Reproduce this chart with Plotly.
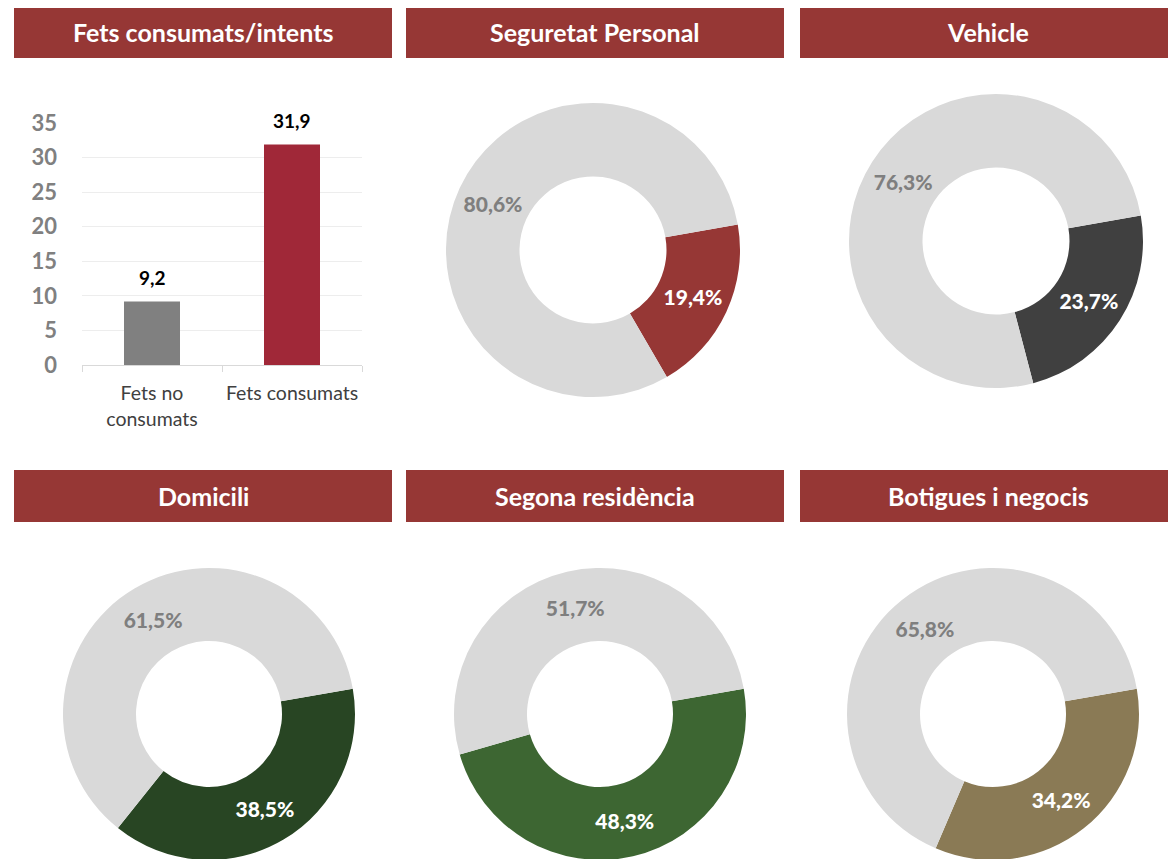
import plotly.graph_objects as go

W, H = 1176, 859
OFF = 8  # page body margin the figure sits inside

# ---- data ----
bar_cats = ["Fets no<br>consumats", "Fets consumats"]
bar_vals = [9.2, 31.9]
bar_colors = ["#808080", "#A02838"]
y_ticks = [0, 5, 10, 15, 20, 25, 30, 35]

panel_titles = ["Fets consumats/intents", "Seguretat Personal", "Vehicle",
                "Domicili", "Segona residència", "Botigues i negocis"]

donut_names = ["Seguretat Personal", "Vehicle", "Domicili",
               "Segona residència", "Botigues i negocis"]
donut_share = [19.4, 23.7, 38.5, 48.3, 34.2]      # coloured slice
donut_rest = [80.6, 76.3, 61.5, 51.7, 65.8]       # grey slice
donut_colors = ["#963735", "#404040", "#284523", "#3D6632", "#8A7A55"]

HEAD = "#963735"
GREY = "#D9D9D9"
LBL = "#7F7F7F"
FONT = "Lato, sans-serif"

def px(x):
    return (x - OFF) / W

def py(y):
    return 1 - (y - OFF) / H

def dom(cx, cy, r):
    # pixel centre/radius -> paper domain
    y0 = max(py(cy + r), 0)
    return dict(x=[px(cx - r), px(cx + r)], y=[y0, py(cy - r)])

donut_pos = [(593, 250, 147), (996, 241, 147), (209, 714, 146),
             (600, 714, 146), (993, 714, 146)]

fig = go.Figure()

# bar chart
fig.add_trace(go.Bar(
    x=bar_cats, y=bar_vals, marker=dict(color=bar_colors, line=dict(width=0)),
    showlegend=False, hoverinfo="x+y"))
for c, v in zip(bar_cats, bar_vals):
    fig.add_annotation(x=c, y=v, text=f"<b>{v:.1f}</b>".replace(".", ","),
                       showarrow=False, yanchor="bottom", yshift=10,
                       font=dict(family=FONT, size=19, color="#000000"))

# donuts
for name, a, b, col, pos in zip(donut_names, donut_share, donut_rest, donut_colors, donut_pos):
    fig.add_trace(go.Pie(
        labels=[name, "Resta"], values=[a, b], hole=0.5, sort=False,
        direction="clockwise", rotation=80,
        marker=dict(colors=[col, GREY], line=dict(width=0)),
        texttemplate="%{value:.1f}%", textposition="inside",
        insidetextorientation="horizontal",
        insidetextfont=dict(family=FONT, size=21, color=["#FFFFFF", LBL], weight=900),
        domain=dom(*pos), showlegend=False, hoverinfo="label+value"))

# header bars
head_boxes = [(14, 392, 7, 58), (406, 784, 7, 58), (800, 1184, 7, 58),
              (14, 392, 470, 522), (406, 784, 470, 522), (800, 1184, 470, 522)]
for t, (x0, x1, y0, y1) in zip(panel_titles, head_boxes):
    fig.add_shape(type="rect", xref="paper", yref="paper",
                  x0=px(x0), x1=px(x1), y0=py(y1), y1=py(y0),
                  fillcolor=HEAD, line=dict(width=0), layer="below")
    xc = (x0 + min(x1, 1176)) / 2
    fig.add_annotation(xref="paper", yref="paper", x=px(xc),
                       y=py((y0 + y1) / 2), text=f"<b>{t}</b>", showarrow=False,
                       xanchor="center", yanchor="middle",
                       font=dict(family=FONT, size=25, color="#FFFFFF"))

fig.update_layout(
    width=W, height=H, margin=dict(l=0, r=0, t=0, b=0, autoexpand=False),
    paper_bgcolor="white", plot_bgcolor="white", separators=",.",
    font=dict(family=FONT), bargap=0.6,
    xaxis=dict(domain=[px(82), px(362)], showline=True, linecolor="#D9D9D9",
               ticks="outside", tickson="boundaries", ticklen=6, tickcolor="#D9D9D9",
               tickangle=0,
               tickfont=dict(family=FONT, size=19.5, color="#404040"),
               ticklabelstandoff=11, automargin=False, fixedrange=True),
    yaxis=dict(domain=[py(365), py(123)], range=[0, 35],
               tickvals=y_ticks, ticktext=[f"<b>{t}</b>" for t in y_ticks],
               showgrid=True, gridcolor="#EDEDED", zeroline=False, showline=False,
               tickfont=dict(family=FONT, size=22, color="#808080"),
               ticklabelstandoff=24, automargin=False, fixedrange=True),
)

fig.write_html("out.html")
